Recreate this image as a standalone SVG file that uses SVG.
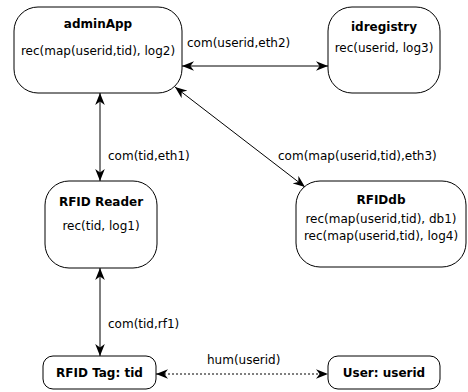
<svg xmlns="http://www.w3.org/2000/svg" width="468" height="392" viewBox="0 0 468 392">
<style>
.box{fill:#fff;stroke:#000;stroke-width:1}
text{font-family:"DejaVu Sans",sans-serif;font-size:12px;fill:#000}
.t{font-weight:bold;text-anchor:middle}
.c{text-anchor:middle}
.e{fill:none;stroke:#000;stroke-width:1}
.d{stroke-dasharray:2,2}
</style>
<defs>
<marker id="ah" markerUnits="userSpaceOnUse" markerWidth="12" markerHeight="10" refX="10" refY="4" orient="auto-start-reverse" viewBox="0 0 10 8">
<path d="M10,4 L0,0 L3,4 L0,8 Z" fill="#000"/>
</marker>
</defs>
<rect width="468" height="392" fill="#fff"/>
<g id="edges">
<line class="e" x1="182" y1="66" x2="328" y2="66" marker-start="url(#ah)" marker-end="url(#ah)"/>
<text x="187" y="47">com(userid,eth2)</text>
<line class="e" x1="100" y1="93" x2="100" y2="181" marker-start="url(#ah)" marker-end="url(#ah)"/>
<text x="108" y="160">com(tid,eth1)</text>
<line class="e" x1="175" y1="87" x2="305" y2="187" marker-start="url(#ah)" marker-end="url(#ah)"/>
<text x="278" y="160">com(map(userid,tid),eth3)</text>
<line class="e" x1="100" y1="268" x2="100" y2="356" marker-start="url(#ah)" marker-end="url(#ah)"/>
<text x="108" y="328">com(tid,rf1)</text>
<line class="e d" x1="156" y1="374" x2="328" y2="374" marker-start="url(#ah)" marker-end="url(#ah)"/>
<text x="207" y="364">hum(userid)</text>
</g>
<g id="adminApp">
<rect class="box" x="14" y="7" width="168" height="86" rx="24" ry="24"/>
<text class="t" x="98" y="28">adminApp</text>
<text class="c" x="98" y="55">rec(map(userid,tid), log2)</text>
</g>
<g id="idregistry">
<rect class="box" x="328" y="7" width="112" height="86" rx="24" ry="24"/>
<text class="t" x="384" y="31">idregistry</text>
<text class="c" x="384" y="52">rec(userid, log3)</text>
</g>
<g id="rfidReader">
<rect class="box" x="45" y="181" width="112" height="87" rx="24" ry="24"/>
<text class="t" x="101" y="206">RFID Reader</text>
<text class="c" x="101" y="230">rec(tid, log1)</text>
</g>
<g id="rfidDb">
<rect class="box" x="296" y="181" width="170" height="86" rx="24" ry="24"/>
<text class="t" x="381" y="204">RFIDdb</text>
<text class="c" x="381" y="223">rec(map(userid,tid), db1)</text>
<text class="c" x="381" y="240">rec(map(userid,tid), log4)</text>
</g>
<g id="rfidTag">
<rect class="box" x="43" y="356" width="113" height="33" rx="10" ry="10"/>
<text class="t" x="99.5" y="377">RFID Tag: tid</text>
</g>
<g id="user">
<rect class="box" x="328" y="356" width="112" height="33" rx="10" ry="10"/>
<text class="t" x="384" y="377">User: userid</text>
</g>
</svg>
